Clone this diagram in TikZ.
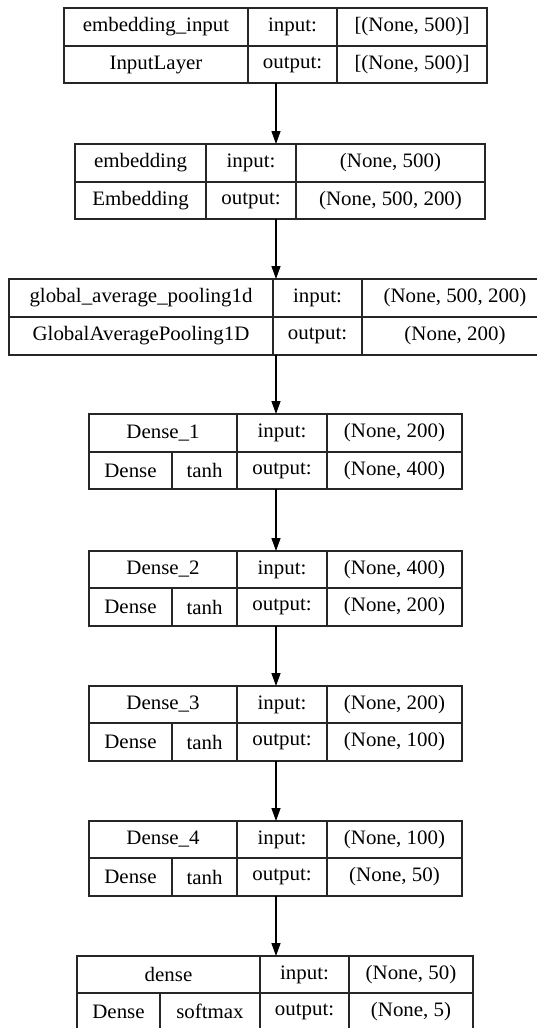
\documentclass[tikz,border=0pt]{standalone}
\usepackage{fontspec}
\setmainfont{Liberation Serif}[FakeStretch=1.02]
\usetikzlibrary{arrows.meta}
\tikzset{
  cellnode/.style={draw=black!85, line width=1.3pt, inner sep=0pt, outer sep=0pt,
    font=\fontsize{20.5}{24}\selectfont, text=black},
  flow/.style={draw=black, line width=1.3pt, -{Triangle[length=13pt,width=9pt]}}
}
% \cellbox{name}{x1}{y1}{x2}{y2}{text}: one table cell between two corners
\newcommand\cellbox[6]{%
  \node[cellnode, minimum width={#4pt-#2pt}, minimum height={#5pt-#3pt}]
    (#1) at ({(#2+#4)/2},{(#3+#5)/2}) {#6};}
% \densetable{prefix}{top}{mid}{bottom}{x0}{x1}{x2}{x3}{title}{x4}{kind}{act}{in}{out}
\newcommand\densetable[9]{%
  \cellbox{#1a}{#5}{#2}{#7}{#3}{#9}%
  \densetablefinal{#1}{#2}{#3}{#4}{#5}{#6}{#7}{#8}}
\newcommand\densetablefinal[8]{\def\dtA{#1}\def\dtB{#2}\def\dtC{#3}\def\dtD{#4}%
  \def\dtE{#5}\def\dtF{#6}\def\dtG{#7}\def\dtH{#8}\densetablecells}
\newcommand\densetablecells[5]{%
  \cellbox{\dtA b}{\dtG}{\dtB}{\dtH}{\dtC}{input:}%
  \cellbox{\dtA c}{\dtH}{\dtB}{#1}{\dtC}{#4}%
  \cellbox{\dtA d}{\dtE}{\dtC}{\dtF}{\dtD}{#2}%
  \cellbox{\dtA e}{\dtF}{\dtC}{\dtG}{\dtD}{#3}%
  \cellbox{\dtA f}{\dtG}{\dtC}{\dtH}{\dtD}{output:}%
  \cellbox{\dtA g}{\dtH}{\dtC}{#1}{\dtD}{#5}}
\begin{document}
\begin{tikzpicture}[x=1pt,y=-1pt]
\useasboundingbox (0,0) rectangle (537,1028);
\fill[white] (0,0) rectangle (537,1028);
\clip (0,0) rectangle (537,1028);

% embedding_input
\cellbox{t1a}{64}{8}{248}{46}{embedding\_input}
\cellbox{t1b}{248}{8}{337}{46}{input:}
\cellbox{t1c}{337}{8}{487}{46}{[(None, 500)]}
\cellbox{t1d}{64}{46}{248}{83}{InputLayer}
\cellbox{t1e}{248}{46}{337}{83}{output:}
\cellbox{t1f}{337}{46}{487}{83}{[(None, 500)]}

% embedding
\cellbox{t2a}{75}{144}{206}{182}{embedding}
\cellbox{t2b}{206}{144}{296}{182}{input:}
\cellbox{t2c}{296}{144}{485}{182}{(None, 500)}
\cellbox{t2d}{75}{182}{206}{219}{Embedding}
\cellbox{t2e}{206}{182}{296}{219}{output:}
\cellbox{t2f}{296}{182}{485}{219}{(None, 500, 200)}

% global_average_pooling1d
\cellbox{t3a}{9}{279}{273}{317}{global\_average\_pooling1d}
\cellbox{t3b}{273}{279}{362}{317}{input:}
\cellbox{t3c}{362}{279}{548}{317}{(None, 500, 200)}
\cellbox{t3d}{9}{317}{273}{355}{GlobalAveragePooling1D}
\cellbox{t3e}{273}{317}{362}{355}{output:}
\cellbox{t3f}{362}{317}{548}{355}{(None, 200)}

% Dense_1 .. Dense_4
\densetable{t4}{414}{452}{489}{89}{172}{237}{327}{Dense\_1}{462}{Dense}{tanh}{(None, 200)}{(None, 400)}
\densetable{t5}{551}{588}{626}{89}{172}{237}{327}{Dense\_2}{462}{Dense}{tanh}{(None, 400)}{(None, 200)}
\densetable{t6}{686}{723}{761}{89}{172}{237}{327}{Dense\_3}{462}{Dense}{tanh}{(None, 200)}{(None, 100)}
\densetable{t7}{821}{858}{896}{89}{172}{237}{327}{Dense\_4}{462}{Dense}{tanh}{(None, 100)}{(None, 50)}

% dense (output layer)
\densetable{t8}{956}{993}{1030}{77}{160}{260}{349}{dense}{473}{Dense}{softmax}{(None, 50)}{(None, 5)}

% connectors
\coordinate (ax) at (276,0);
\draw[flow] (t1e.south -| ax) -- (t2b.north -| ax);
\draw[flow] (t2e.south -| ax) -- (t3b.north -| ax);
\draw[flow] (t3e.south -| ax) -- (t4a.north -| ax);
\draw[flow] (t4f.south -| ax) -- (t5a.north -| ax);
\draw[flow] (t5f.south -| ax) -- (t6a.north -| ax);
\draw[flow] (t6f.south -| ax) -- (t7a.north -| ax);
\draw[flow] (t7f.south -| ax) -- (t8b.north -| ax);
\end{tikzpicture}
\end{document}
